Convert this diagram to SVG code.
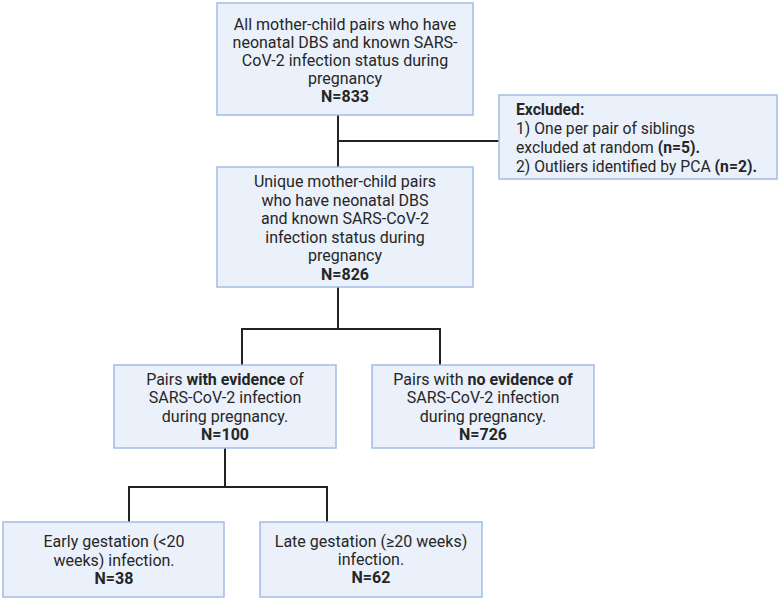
<svg xmlns="http://www.w3.org/2000/svg" width="780" height="599" viewBox="0 0 780 599">
<style>
.box{fill:#EAF1FB;stroke:#A3BCE5;stroke-width:1.5}
.t{font-family:Roboto,"Liberation Sans",sans-serif;font-size:16px;fill:#262626;text-anchor:middle}
.l{text-anchor:start;font-size:15.7px}
.b{font-weight:bold}
.c{fill:none;stroke:#222;stroke-width:2}
</style>
<rect width="780" height="599" fill="#fff"/>
<g id="connectors">
<path class="c" d="M338 115V167"/>
<path class="c" d="M338 141H499"/>
<path class="c" d="M338 287V329M242 365V329H440V365"/>
<path class="c" d="M225 448V487M129 522V487H327V522"/>
</g>
<g id="n1">
<rect class="box" x="217" y="3" width="256" height="112"/>
<text class="t" x="345" y="30">All mother-child pairs who have</text>
<text class="t" x="345" y="48">neonatal DBS and known SARS-</text>
<text class="t" x="345" y="66">CoV-2 infection status during</text>
<text class="t" x="345" y="84">pregnancy</text>
<text class="t b" x="345" y="102">N=833</text>
</g>
<g id="excluded">
<rect class="box" x="499" y="95" width="278" height="84"/>
<text class="t l b" x="516" y="115">Excluded:</text>
<text class="t l" x="516" y="134">1) One per pair of siblings</text>
<text class="t l" x="516" y="153">excluded at random <tspan class="b">(n=5).</tspan></text>
<text class="t l" x="516" y="172">2) Outliers identified by PCA <tspan class="b">(n=2).</tspan></text>
</g>
<g id="n2">
<rect class="box" x="217" y="167" width="256" height="120"/>
<text class="t" x="345" y="187">Unique mother-child pairs</text>
<text class="t" x="345" y="206">who have neonatal DBS</text>
<text class="t" x="345" y="224">and known SARS-CoV-2</text>
<text class="t" x="345" y="243">infection status during</text>
<text class="t" x="345" y="261">pregnancy</text>
<text class="t b" x="345" y="280">N=826</text>
</g>
<g id="n3">
<rect class="box" x="114" y="365" width="222" height="83"/>
<text class="t" x="225" y="385">Pairs <tspan class="b">with evidence</tspan> of</text>
<text class="t" x="225" y="403">SARS-CoV-2 infection</text>
<text class="t" x="225" y="422">during pregnancy.</text>
<text class="t b" x="225" y="440">N=100</text>
</g>
<g id="n4">
<rect class="box" x="372" y="365" width="222" height="83"/>
<text class="t" x="483" y="385">Pairs with <tspan class="b">no evidence of</tspan></text>
<text class="t" x="483" y="403">SARS-CoV-2 infection</text>
<text class="t" x="483" y="422">during pregnancy.</text>
<text class="t b" x="483" y="440">N=726</text>
</g>
<g id="n5">
<rect class="box" x="3" y="522" width="221" height="75"/>
<text class="t" x="114" y="547">Early gestation (&lt;20</text>
<text class="t" x="114" y="566">weeks) infection.</text>
<text class="t b" x="114" y="584">N=38</text>
</g>
<g id="n6">
<rect class="box" x="260" y="522" width="222" height="75"/>
<text class="t" x="371" y="547">Late gestation (≥20 weeks)</text>
<text class="t" x="371" y="565">infection.</text>
<text class="t b" x="371" y="583">N=62</text>
</g>
</svg>
